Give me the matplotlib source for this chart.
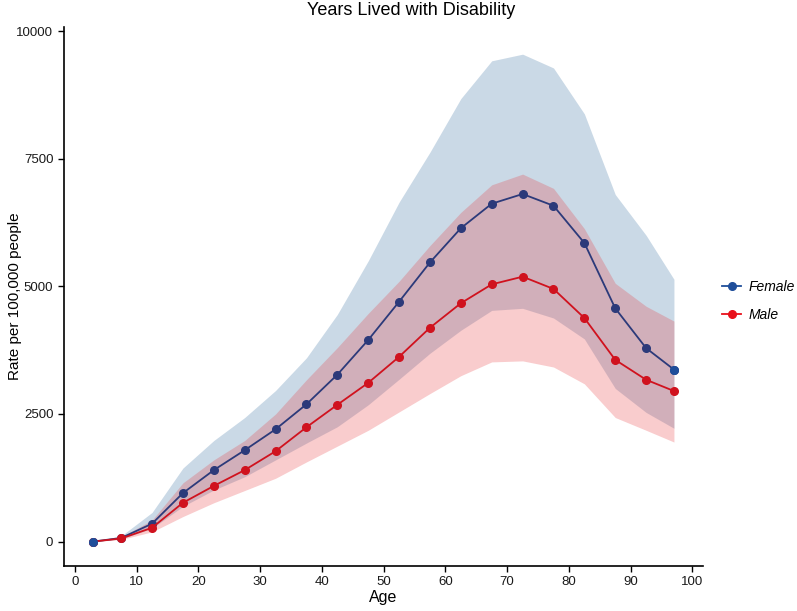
import matplotlib
matplotlib.use("Agg")
import matplotlib.pyplot as plt
from matplotlib.lines import Line2D

plt.rcParams['font.family'] = ['Liberation Sans', 'DejaVu Sans']

ages = [3, 7.5, 12.5, 17.5, 22.5, 27.5, 32.5, 37.5, 42.5, 47.5, 52.5,
        57.5, 62.5, 67.5, 72.5, 77.5, 82.5, 87.5, 92.5, 97]

female_mean = [0, 70, 350, 950, 1400, 1790, 2200, 2690, 3270, 3950, 4700,
               5470, 6140, 6620, 6810, 6580, 5850, 4570, 3790, 3370]
female_upper = [0, 110, 570, 1440, 1980, 2430, 2960, 3600, 4450, 5500, 6650,
                7630, 8680, 9420, 9550, 9280, 8380, 6800, 6000, 5140]
female_lower = [0, 50, 260, 690, 1010, 1270, 1600, 1930, 2250, 2680, 3180,
                3690, 4140, 4530, 4570, 4380, 3970, 3000, 2530, 2220]

male_mean = [0, 60, 270, 760, 1090, 1400, 1770, 2240, 2680, 3110, 3620,
             4190, 4670, 5040, 5190, 4950, 4380, 3560, 3170, 2950]
male_upper = [0, 90, 420, 1150, 1600, 1980, 2500, 3170, 3800, 4470, 5100,
              5800, 6450, 6990, 7200, 6920, 6130, 5060, 4610, 4320]
male_lower = [0, 40, 190, 490, 760, 1000, 1240, 1560, 1870, 2180, 2540,
              2900, 3250, 3520, 3540, 3420, 3090, 2430, 2180, 1950]

x_ticks = [0, 10, 20, 30, 40, 50, 60, 70, 80, 90, 100]
y_ticks = [0, 2500, 5000, 7500, 10000]

navy = "#2C3A7A"
blue_pt = "#1F4E9A"
red = "#D0121E"

fig = plt.figure(figsize=(7.97, 6.11), dpi=100)
ax = fig.add_axes([0.080, 0.0736, 0.802, 0.882])

ax.fill_between(ages, female_lower, female_upper, color="#2C689C", alpha=0.25, linewidth=0)
ax.fill_between(ages, male_lower, male_upper, color="#E83438", alpha=0.25, linewidth=0)

ax.plot(ages, female_mean, color=navy, lw=1.3, marker='o', ms=5.5, zorder=3)
ax.plot(ages, male_mean, color=red, lw=1.3, marker='o', ms=5.5, zorder=3)
# end points of the female series appear in a brighter blue
ax.plot([ages[0], ages[-1]], [female_mean[0], female_mean[-1]], ls='none',
        marker='o', ms=5.5, color=blue_pt, zorder=4)

ax.set_xlim(-1.8, 101.7)
ax.set_ylim(-480, 10080)
ax.set_xticks(x_ticks)
ax.set_yticks(y_ticks)
ax.tick_params(axis='both', direction='out', length=4, width=1, colors='black',
               labelsize=9.5, labelcolor='#1a1a1a')
for s in ['top', 'right']:
    ax.spines[s].set_visible(False)
for s in ['left', 'bottom']:
    ax.spines[s].set_linewidth(1.2)

ax.set_xlabel("Age", fontsize=11.5)
ax.xaxis.set_label_coords(0.5, -0.045)
ax.set_ylabel("Rate per 100,000 people", fontsize=11)
ax.yaxis.set_label_coords(-0.066, 0.5)
fig.text(0.516, 0.983, "Years Lived with Disability", ha='center', va='center', fontsize=13)

handles = [Line2D([0], [0], color=blue_pt, lw=1.3, marker='o', ms=5.5),
           Line2D([0], [0], color="#E8101A", lw=1.3, marker='o', ms=5.5)]
leg = fig.legend(handles, ["Female", "Male"], loc='center left',
                 bbox_to_anchor=(0.890, 0.508), frameon=False,
                 prop={'style': 'italic', 'size': 10}, handlelength=1.4,
                 labelspacing=1.0, handletextpad=0.5)

fig.savefig("out.png", dpi=100)
